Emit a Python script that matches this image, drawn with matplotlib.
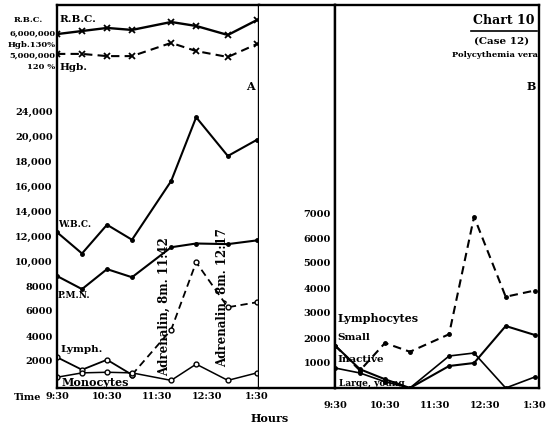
import matplotlib
matplotlib.use("Agg")
import matplotlib.pyplot as plt
from matplotlib.lines import Line2D

# minutes after 9:30
times = [0, 30, 60, 90, 137, 167, 205, 240]

# panel A
rbc = [5950000, 6090000, 6230000, 6140000, 6500000, 6320000, 5910000, 6590000]
hgb = [125.5, 125.5, 124.5, 124.5, 130.5, 126.8, 124.1, 130.0]
wbc = [12300, 10600, 12900, 11700, 16400, 21500, 18400, 19700]
pmn = [8800, 7750, 9350, 8700, 11100, 11400, 11350, 11650]
lymph = [2300, 1300, 2100, 900, 4500, 9900, 6300, 6700]
mono = [700, 1050, 1100, 1050, 450, 1750, 450, 1050]

# panel B
lymphocytes = [1700, 700, 1800, 1450, 2150, 6850, 3650, 3900]
small = [1700, 750, 350, 0, 880, 1000, 2480, 2120]
inactive = [800, 600, 250, 0, 1280, 1400, 0, 440]

left_ticks = [2000, 4000, 6000, 8000, 10000, 12000, 14000, 16000, 18000, 20000, 22000]
left_labels = ["2000", "4000", "6000", "8000", "10,000", "12,000", "14,000",
               "16,000", "18,000", "20,000", "24,000"]
right_ticks = [1000, 2000, 3000, 4000, 5000, 6000, 7000]
hour_ticks = [0, 60, 120, 180, 240]
hour_labels = ["9:30", "10:30", "11:30", "12:30", "1:30"]

W, H = 549, 426
plt.rcParams["font.family"] = "DejaVu Serif"
plt.rcParams["font.weight"] = "bold"

fig = plt.figure(figsize=(W / 100, H / 100), dpi=100)


def box(x0, y0, x1, y1):
    return [x0 / W, 1 - y1 / H, (x1 - x0) / W, (y1 - y0) / H]


def txt(x, y, s, size=7, **kw):
    fig.text(x / W, 1 - y / H, s, fontsize=size, **kw)


def frame(ax, lw=1.7):
    for sp in ax.spines.values():
        sp.set_linewidth(lw)
        sp.set_color("black")


# ---------- panel A ----------
ax1 = fig.add_axes(box(57, 5, 259, 388))
ax1.set_xlim(0, 242.4)
ax1.set_ylim(-160, 30480)
frame(ax1)
ax1.plot(times, wbc, "k-", lw=1.5, marker="o", ms=2.5)
ax1.plot(times, pmn, "k-", lw=1.5, marker="o", ms=2.5)
ax1.plot(times[:4], lymph[:4], "k-", lw=1.3, marker="o", ms=3.5, mfc="white")
ax1.plot(times[3:], lymph[3:], "k", ls=(0, (4, 2.5)), lw=1.3, marker="o", ms=3.5, mfc="white")
ax1.plot(times, mono, "k-", lw=1.1, marker="o", ms=3.5, mfc="white")
ax1.set_yticks(left_ticks)
ax1.set_yticklabels(left_labels, fontsize=7)
ax1.set_xticks(hour_ticks)
ax1.set_xticklabels(hour_labels, fontsize=7)
ax1.tick_params(length=0, pad=3)

ax_rbc = ax1.twinx()
ax_rbc.set_ylim(-10136364, 7272727)
ax_rbc.plot(times, rbc, "k-", lw=1.7, marker="x", ms=4, mew=1.3)
ax_rbc.yaxis.tick_left()
ax_rbc.set_yticks([6000000, 5000000])
ax_rbc.set_yticklabels(["6,000,000", "5,000,000"], fontsize=6)
ax_rbc.tick_params(length=0, pad=1)
ax_rbc.set_frame_on(False)

ax_hgb = ax1.twinx()
ax_hgb.set_ylim(-26.36, 147.73)
ax_hgb.plot(times, hgb, "k", ls=(0, (4, 2.5)), lw=1.5, marker="x", ms=4, mew=1.3)
ax_hgb.yaxis.tick_left()
ax_hgb.set_yticks([130, 120])
ax_hgb.set_yticklabels(["Hgb.130%", "120 %"], fontsize=6)
ax_hgb.tick_params(length=0, pad=1)
ax_hgb.set_frame_on(False)

# ---------- gap between panels ----------
axm = fig.add_axes(box(259, 5, 335, 388))
axm.set_xticks([])
axm.set_yticks([])
frame(axm)
axm.spines["left"].set_visible(False)

# ---------- panel B ----------
ax2 = fig.add_axes(box(335, 5, 539, 388))
ax2.set_xlim(0, 245)
ax2.set_ylim(0, 15320)
frame(ax2)
ax2.plot(times, lymphocytes, "k", ls=(0, (4, 2.5)), lw=1.5, marker="o", ms=2.5)
ax2.plot(times, small, "k-", lw=1.5, marker="o", ms=2.5)
ax2.plot(times, inactive, "k-", lw=1.2, marker="o", ms=2.5)
ax2.set_yticks(right_ticks)
ax2.set_yticklabels([str(v) for v in right_ticks], fontsize=7)
ax2.set_xticks(hour_ticks)
ax2.set_xticklabels(hour_labels, fontsize=7)
ax2.tick_params(length=0, pad=3)
ax2.tick_params(axis="x", pad=9)

# ---------- text ----------
txt(14, 20, "R.B.C.", 6, va="center")
txt(59, 20, "R.B.C.", 7.5, va="center")
txt(59, 68, "Hgb.", 7.5, va="center")
txt(250, 87, "A", 8, va="center", ha="center")
txt(58, 224, "W.B.C.", 6.5, va="center")
txt(58, 295, "P.M.N.", 6.5, va="center")
txt(60, 349, "Lymph.", 7.5, va="center")
txt(62, 383, "Monocytes", 8, va="center")
txt(164, 307, "Adrenalin, 8m. 11:42", 8.5, rotation=90, ha="center", va="center")
txt(222, 298, "Adrenalin, 8m. 12:17", 8.5, rotation=90, ha="center", va="center")
txt(14, 398, "Time", 7, va="center")
txt(270, 418, "Hours", 8, ha="center", va="center")

txt(504, 21, "Chart 10", 9, ha="center", va="center")
fig.add_artist(Line2D([471 / W, 537 / W], [1 - 31 / H, 1 - 31 / H], color="black", lw=1.2))
txt(502, 41, "(Case 12)", 7.5, ha="center", va="center")
txt(495, 55, "Polycythemia vera", 6, ha="center", va="center")
txt(536, 86, "B", 8, ha="right", va="center")
txt(338, 318, "Lymphocytes", 8, va="center")
txt(337, 338, "Small", 7.5, va="center")
txt(337, 360, "Inactive", 7.5, va="center")
txt(339, 383, "Large, young", 6.5, va="center")

fig.savefig("out.png", dpi=100, facecolor="white")
